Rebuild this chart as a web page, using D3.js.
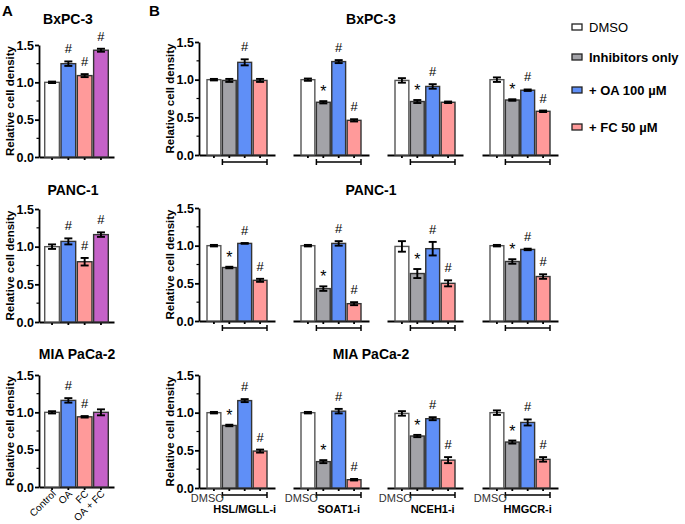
<!DOCTYPE html>
<html lang="en">
<head>
<meta charset="UTF-8">
<title>Relative cell density</title>
<script src="https://d3js.org/d3.v7.min.js"></script>
<style>
  body { margin: 0; background: #fff; }
  svg { font-family: "Liberation Sans", Arial, sans-serif; }
  .axis path, .axis line { stroke: #000; stroke-width: 1.8; }
  .axis text { font-size: 12.5px; font-weight: bold; fill: #000; }
  .minor line { stroke: #000; stroke-width: 1.2; }
  .bar { stroke-width: 1.4; }
  .err { stroke: #000; stroke-width: 1.9; fill: none; }
  .mark { text-anchor: middle; }
  .title { font-size: 14px; font-weight: bold; text-anchor: middle; }
  .ylab { font-size: 11.5px; font-weight: bold; text-anchor: middle; }
  .panel { font-size: 15px; font-weight: bold; }
  .bracket { stroke: #000; stroke-width: 1.5; }
</style>
</head>
<body>
<div id="chart"></div>
<script>
// ---- data ----
const cellLines = ["BxPC-3", "PANC-1", "MIA PaCa-2"];
const yTicks = [0, 0.5, 1.0, 1.5];

// panel A: control / OA / FC / OA + FC
const groupsA = ["Control", "OA", "FC", "OA + FC"];
const meansA = [
  [1.00, 1.25, 1.09, 1.43],
  [1.00, 1.07, 0.80, 1.16],
  [1.00, 1.16, 0.94, 1.00]
];
const errorsA = [
  [0.01, 0.03, 0.02, 0.02],
  [0.03, 0.04, 0.05, 0.03],
  [0.015, 0.03, 0.01, 0.04]
];
const marksA = [
  ["", "#", "#", "#"],
  ["", "#", "#", "#"],
  ["", "#", "#", ""]
];

// panel B: per cell line, per inhibitor, per treatment
const treatments = ["DMSO", "Inhibitors only", "+ OA 100 µM", "+ FC 50 µM"];
const inhibitors = ["HSL/MGLL-i", "SOAT1-i", "NCEH1-i", "HMGCR-i"];
const meansB = [
  [[1.00, 0.99, 1.23, 0.99], [1.00, 0.70, 1.24, 0.46], [0.99, 0.71, 0.91, 0.70], [1.00, 0.73, 0.86, 0.58]],
  [[1.00, 0.71, 1.03, 0.54], [1.00, 0.43, 1.03, 0.23], [0.99, 0.63, 0.96, 0.50], [1.00, 0.79, 0.95, 0.59]],
  [[1.00, 0.83, 1.16, 0.49], [1.00, 0.35, 1.02, 0.11], [0.99, 0.69, 0.92, 0.37], [1.00, 0.61, 0.87, 0.38]]
];
const errorsB = [
  [[0.01, 0.02, 0.04, 0.02], [0.015, 0.015, 0.02, 0.015], [0.03, 0.02, 0.03, 0.01], [0.03, 0.01, 0.01, 0.01]],
  [[0.01, 0.01, 0.005, 0.02], [0.01, 0.03, 0.03, 0.02], [0.07, 0.06, 0.09, 0.04], [0.01, 0.03, 0.01, 0.03]],
  [[0.01, 0.01, 0.02, 0.02], [0.01, 0.02, 0.03, 0.01], [0.03, 0.015, 0.02, 0.04], [0.03, 0.02, 0.04, 0.03]]
];
const marksB = [
  [["", "", "#", ""], ["", "*", "#", "#"], ["", "*", "#", ""], ["", "*", "#", "#"]],
  [["", "*", "#", "#"], ["", "*", "#", "#"], ["", "*", "#", "#"], ["", "*", "#", "#"]],
  [["", "*", "#", "#"], ["", "*", "#", "#"], ["", "*", "#", "#"], ["", "*", "#", "#"]]
];

const colorsA = ["#ffffff", "#5f8ff7", "#ff9a9a", "#c562c8"];
const colorsB = ["#ffffff", "#a3a3a8", "#5f8ff7", "#ff9a9a"];

// ---- layout ----
const rowsA = [[157, 45], [322, 209], [487, 375]];   // [y of 0, y of 1.5]
const rowsB = [[155, 42], [321, 208], [488, 375]];
const titleAx = [68, 73, 77];
const titleY = [24, 195, 359];
const subX = [199, 293, 387, 482];

const svg = d3.select("#chart").append("svg")
  .attr("width", 685)
  .attr("height", 524);

function drawYAxis(g, x, y, ylabX) {
  g.append("g")
    .attr("class", "axis")
    .attr("transform", `translate(${x},0)`)
    .call(d3.axisLeft(y).tickValues(yTicks).tickSize(4).tickSizeOuter(0).tickFormat(d3.format(".1f")))
    .call(a => a.selectAll("text").attr("x", -5));
  // minor ticks
  g.append("g")
    .attr("class", "minor")
    .selectAll("line")
    .data([0.25, 0.75, 1.25])
    .enter().append("line")
    .attr("x1", x).attr("x2", x - 2.5)
    .attr("y1", d => y(d)).attr("y2", d => y(d));
  const mid = (y.range()[0] + y.range()[1]) / 2;
  g.append("text")
    .attr("class", "ylab")
    .attr("transform", `translate(${ylabX},${mid}) rotate(-90)`)
    .attr("dy", "0.35em")
    .text("Relative cell density");
}

function drawGroup(g, cats, means, errs, marks, colors, x, y, base) {
  g.append("g")
    .attr("class", "axis")
    .attr("transform", `translate(0,${base})`)
    .call(d3.axisBottom(x).tickSize(3).tickSizeOuter(0).tickFormat(""));

  const rows = cats.map((c, i) => ({ c: c, m: means[i], e: errs[i], k: marks[i], col: colors[i] }));

  g.selectAll(".bar-" + cats.length)
    .data(rows)
    .enter().append("rect")
    .attr("class", "bar")
    .attr("x", d => x(d.c))
    .attr("y", d => y(d.m))
    .attr("width", x.bandwidth())
    .attr("height", d => base - y(d.m))
    .attr("fill", d => d.col)
    .attr("stroke", (d, i) => i === 0 ? "#555" : "#333");

  const eb = g.selectAll(".errbar")
    .data(rows)
    .enter().append("g");
  const cx = d => x(d.c) + x.bandwidth() / 2;
  eb.append("line").attr("class", "err")
    .attr("x1", cx).attr("x2", cx)
    .attr("y1", d => y(d.m - d.e)).attr("y2", d => y(d.m + d.e));
  eb.append("line").attr("class", "err")
    .attr("x1", d => cx(d) - 4).attr("x2", d => cx(d) + 4)
    .attr("y1", d => y(d.m + d.e)).attr("y2", d => y(d.m + d.e));
  eb.append("line").attr("class", "err")
    .attr("x1", d => cx(d) - 4).attr("x2", d => cx(d) + 4)
    .attr("y1", d => y(d.m - d.e)).attr("y2", d => y(d.m - d.e));

  g.selectAll(".mark-t")
    .data(rows.filter(d => d.k !== ""))
    .enter().append("text")
    .attr("class", "mark")
    .attr("x", cx)
    .attr("y", d => y(d.m + d.e) - (d.k === "*" ? 4 : 8))
    .style("font-size", d => d.k === "*" ? "16px" : "13px")
    .text(d => d.k);
}

// ---- panel A ----
svg.append("text").attr("class", "panel").attr("x", 2).attr("y", 16).text("A");
cellLines.forEach((name, r) => {
  const g = svg.append("g");
  const y = d3.scaleLinear().domain([0, 1.5]).range(rowsA[r]);
  const x = d3.scaleBand().domain(groupsA).range([39, 114]).paddingInner(0.1).paddingOuter(0.35);
  drawGroup(g, groupsA, meansA[r], errorsA[r], marksA[r], colorsA, x, y, rowsA[r][0]);
  drawYAxis(g, 39, y, 10);
  g.append("text").attr("class", "title").attr("x", titleAx[r]).attr("y", titleY[r]).text(name);
  if (r === 2) {
    g.selectAll(".xlab")
      .data(groupsA)
      .enter().append("text")
      .attr("transform", d => `translate(${x(d) + x.bandwidth() / 2 + 2},${rowsA[r][0] + 5}) rotate(-45)`)
      .attr("text-anchor", "end")
      .attr("dy", "0.35em")
      .style("font-size", "10px")
      .text(d => d);
  }
});

// ---- panel B ----
svg.append("text").attr("class", "panel").attr("x", 149).attr("y", 16).text("B");
cellLines.forEach((name, r) => {
  const y = d3.scaleLinear().domain([0, 1.5]).range(rowsB[r]);
  const base = rowsB[r][0];
  inhibitors.forEach((inh, s) => {
    const g = svg.append("g");
    const x0 = subX[s];
    const x = d3.scaleBand().domain(treatments).range([x0, x0 + 76]).paddingInner(0.1).paddingOuter(0.52);
    drawGroup(g, treatments, meansB[r][s], errorsB[r][s], marksB[r][s], colorsB, x, y, base);
    if (s === 0) drawYAxis(g, x0, y, 170);

    // bracket under inhibitor-treated bars
    const bx1 = x(treatments[1]), bx2 = x(treatments[3]) + x.bandwidth();
    const by = base + 7;
    g.append("line").attr("class", "bracket").attr("x1", bx1).attr("x2", bx2).attr("y1", by).attr("y2", by);
    [bx1, bx2].forEach(bx => {
      g.append("line").attr("class", "bracket").attr("x1", bx).attr("x2", bx).attr("y1", by - 3).attr("y2", by + 3);
    });

    if (r === 2) {
      g.append("text")
        .attr("x", x(treatments[0]) + x.bandwidth() + 3)
        .attr("y", base + 14)
        .attr("text-anchor", "end")
        .style("font-size", "11px")
        .style("fill", "#333")
        .text("DMSO");
      g.append("text")
        .attr("x", (bx1 + bx2) / 2)
        .attr("y", by + 18)
        .attr("text-anchor", "middle")
        .style("font-size", "11px")
        .style("font-weight", "bold")
        .text(inh);
    }
  });
  svg.append("text").attr("class", "title").attr("x", 371).attr("y", titleY[r]).text(name);
});

// ---- legend ----
const legY = [27, 57, 90, 127];
const leg = svg.append("g");
treatments.forEach((t, i) => {
  leg.append("rect")
    .attr("x", 572).attr("y", legY[i] - 3).attr("width", 10).attr("height", 6)
    .attr("fill", colorsB[i]).attr("stroke", "#222").attr("stroke-width", 1.3);
  leg.append("text")
    .attr("x", 589).attr("y", legY[i]).attr("dy", "0.35em")
    .style("font-size", "13px")
    .style("font-weight", i === 0 ? "normal" : "bold")
    .text(t);
});
</script>
</body>
</html>
